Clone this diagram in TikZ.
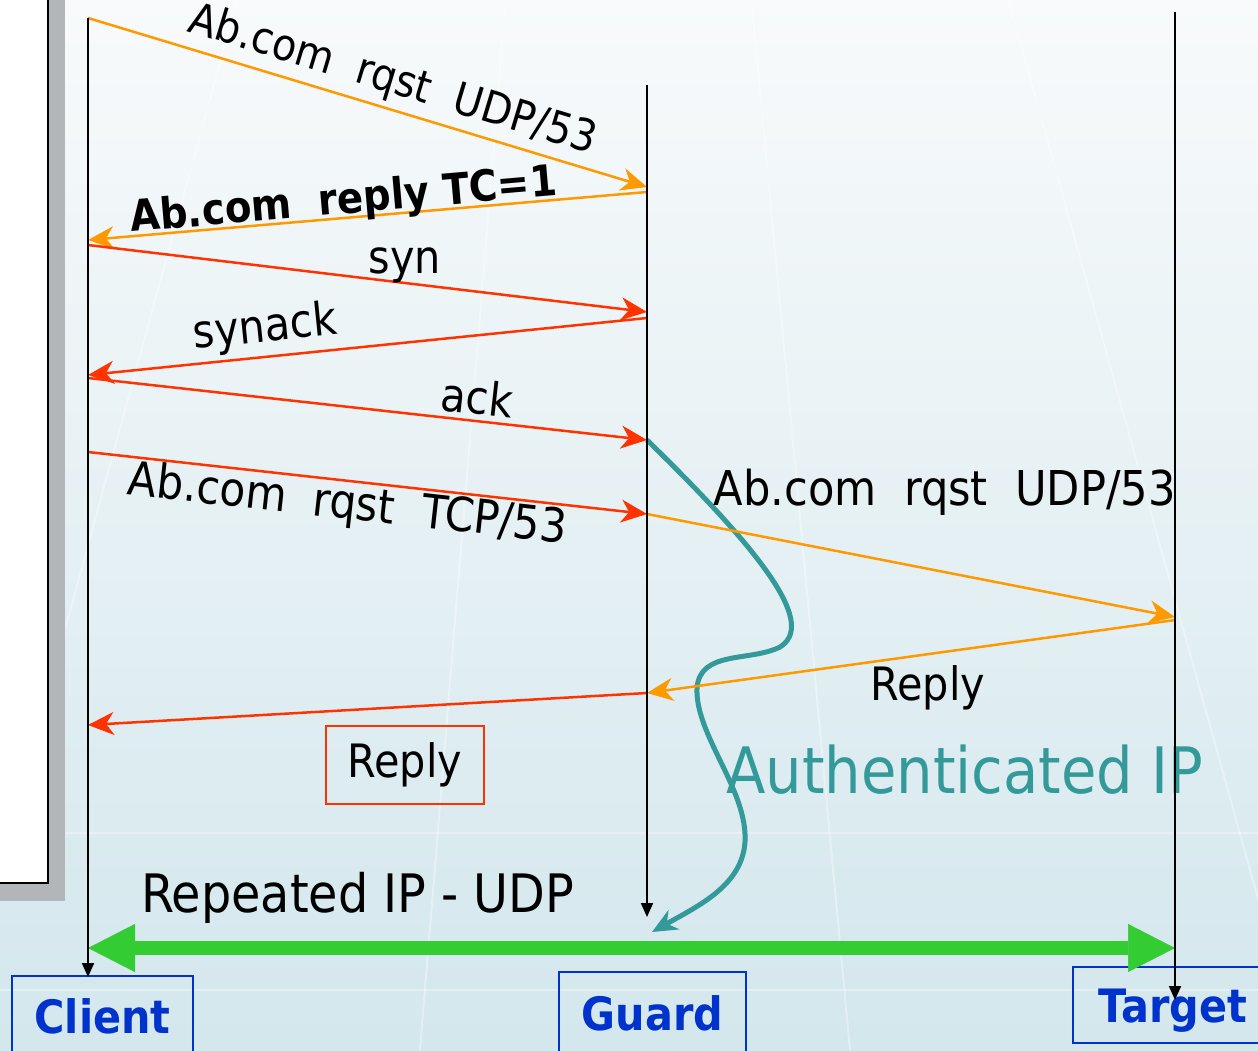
\documentclass[tikz,border=0pt]{standalone}
\usepackage{fontspec}
\setmainfont{DejaVu Sans Condensed}
\usetikzlibrary{arrows.meta}
\definecolor{msgorange}{HTML}{FF9900}
\definecolor{msgred}{HTML}{FF3300}
\definecolor{authteal}{HTML}{339999}
\definecolor{repgreen}{HTML}{33CC33}
\definecolor{roleblue}{HTML}{0033CC}
\definecolor{bgtop}{HTML}{F8FAFB}
\definecolor{bgmid}{HTML}{EAF3F6}
\definecolor{bgbot}{HTML}{D3E7ED}
\definecolor{shadowgray}{HTML}{B3B6B8}
\begin{document}
\begin{tikzpicture}[x=1pt,y=-1pt,
	every node/.style={inner sep=0pt},
	life/.style={line width=2pt,-{Triangle[length=14pt,width=12pt]}},
	udpmsg/.style={msgorange,line width=2.5pt,-{Stealth[length=26pt,width=23pt,inset=8pt]}},
	tcpmsg/.style={msgred,line width=2.5pt,-{Stealth[length=26pt,width=23pt,inset=8pt]}},
	lbl/.style={text=black,font=\fontsize{46pt}{50pt}\selectfont},
	role/.style={draw=roleblue,line width=2pt,text=roleblue,font=\fontsize{46pt}{50pt}\selectfont\bfseries,text height=34pt,text depth=0pt},
	reparrow/.style={repgreen,line width=14pt,{Triangle[length=47pt,width=48pt,line width=0.5pt]}-{Triangle[length=47pt,width=48pt,line width=0.5pt]}},
	auth/.style={authteal,line width=5pt,-{Stealth[length=25pt,width=22pt,inset=8pt]}}]
	\clip (0,0) rectangle (1258,1050);
	% slide background
	\shade[top color=bgtop,middle color=bgmid,bottom color=bgbot] (0,0) rectangle (1258,1050);
	\foreach \gx in {-2200,-1300,-600,-50,420,850,1300,1800,2500,3300}
		\draw[white,line width=2pt,opacity=0.35] (620,-1400) -- (\gx,1050);
	\foreach \gy in {833,990}
		\draw[white,line width=2pt,opacity=0.35] (0,\gy) -- (1258,\gy);
	\fill[shadowgray] (-10,-10) rectangle (65,901);
	\draw[fill=white,line width=2pt] (-10,-10) rectangle (48,883);

	% lifeline points
	\coordinate (ctop) at (88,18);
	\coordinate (c1) at (88,240);
	\coordinate (c2) at (88,245);
	\coordinate (c3) at (88,375);
	\coordinate (c4) at (88,378);
	\coordinate (c5) at (88,452);
	\coordinate (c6) at (88,725);
	\coordinate (cg) at (88,948);
	\coordinate (cbot) at (88,977);
	\coordinate (gtop) at (647,85);
	\coordinate (g1) at (647,187);
	\coordinate (g2) at (647,192);
	\coordinate (g3) at (647,312);
	\coordinate (g4) at (647,318);
	\coordinate (g5) at (647,440);
	\coordinate (g6) at (647,514);
	\coordinate (g7) at (647,693);
	\coordinate (gbot) at (647,917);
	\coordinate (ttop) at (1175,12);
	\coordinate (t1) at (1175,617);
	\coordinate (t2) at (1175,620);
	\coordinate (tg) at (1175,948);
	\coordinate (tbot) at (1175,1000);
	\coordinate (authend) at (652,932);

	\node[role,minimum width=181pt,minimum height=80pt] (client) at (102.5,1016) {Client};
	\node[role,minimum width=187pt,minimum height=82pt] (guard) at (652.5,1013) {Guard};
	\node[role,minimum width=200pt,minimum height=76pt] (target) at (1173,1005) {Target};

	\draw[reparrow] (cg) -- (tg) node[lbl,pos=0.248,yshift=50pt,font=\fontsize{53pt}{56pt}\selectfont] (replbl) {Repeated IP - UDP};

	\draw[auth] (g5) .. controls (770,560) and (815,625) .. (780,647)
		.. controls (750,662) and (700,650) .. (697,688)
		.. controls (695,735) and (748,790) .. (745,842)
		.. controls (742,885) and (700,905) .. (authend);
	\node[text=authteal,font=\fontsize{64pt}{68pt}\selectfont] (authlbl) at (965,770) {Authenticated IP};

	\draw[udpmsg] (ctop) -- (g1) node[lbl,pos=0.53,sloped,yshift=28pt,font=\fontsize{44pt}{48pt}\selectfont] (l1) {Ab.com\ \ rqst\ \ UDP/53};
	\draw[udpmsg] (g2) -- (c1) node[lbl,pos=0.54,sloped,yshift=16pt,font=\fontsize{43pt}{46pt}\selectfont\bfseries] (l2) {Ab.com\ \ reply TC=1};
	\draw[tcpmsg] (c2) -- (g3) node[lbl,pos=0.567,yshift=18pt] (l3) {syn};
	\draw[tcpmsg] (g4) -- (c3) node[lbl,pos=0.678,sloped,yshift=28pt] (l4) {synack};
	\draw[tcpmsg] (c4) -- (g5) node[lbl,pos=0.692,sloped,yshift=24pt] (l5) {ack};
	\draw[tcpmsg] (c5) -- (g6) node[lbl,pos=0.469,sloped,yshift=-25pt,font=\fontsize{47pt}{50pt}\selectfont] (l6) {Ab.com\ \ rqst\ \ TCP/53};
	\draw[udpmsg] (g6) -- (t1) node[lbl,pos=0.564,yshift=80pt,font=\fontsize{48pt}{52pt}\selectfont] (l7) {Ab.com\ \ rqst\ \ UDP/53};
	\draw[udpmsg] (t2) -- (g7) node[lbl,pos=0.468,yshift=-34pt] (l8) {Reply};
	\draw[tcpmsg] (g7) -- (c6) node[lbl,pos=0.433,yshift=-58pt,draw=msgred,line width=1.5pt,minimum width=158pt,minimum height=78pt] (replybox) {Reply};

	\draw[life] (ctop) -- (cbot);
	\draw[life] (gtop) -- (gbot);
	\draw[life] (ttop) -- (tbot);
\end{tikzpicture}
\end{document}
